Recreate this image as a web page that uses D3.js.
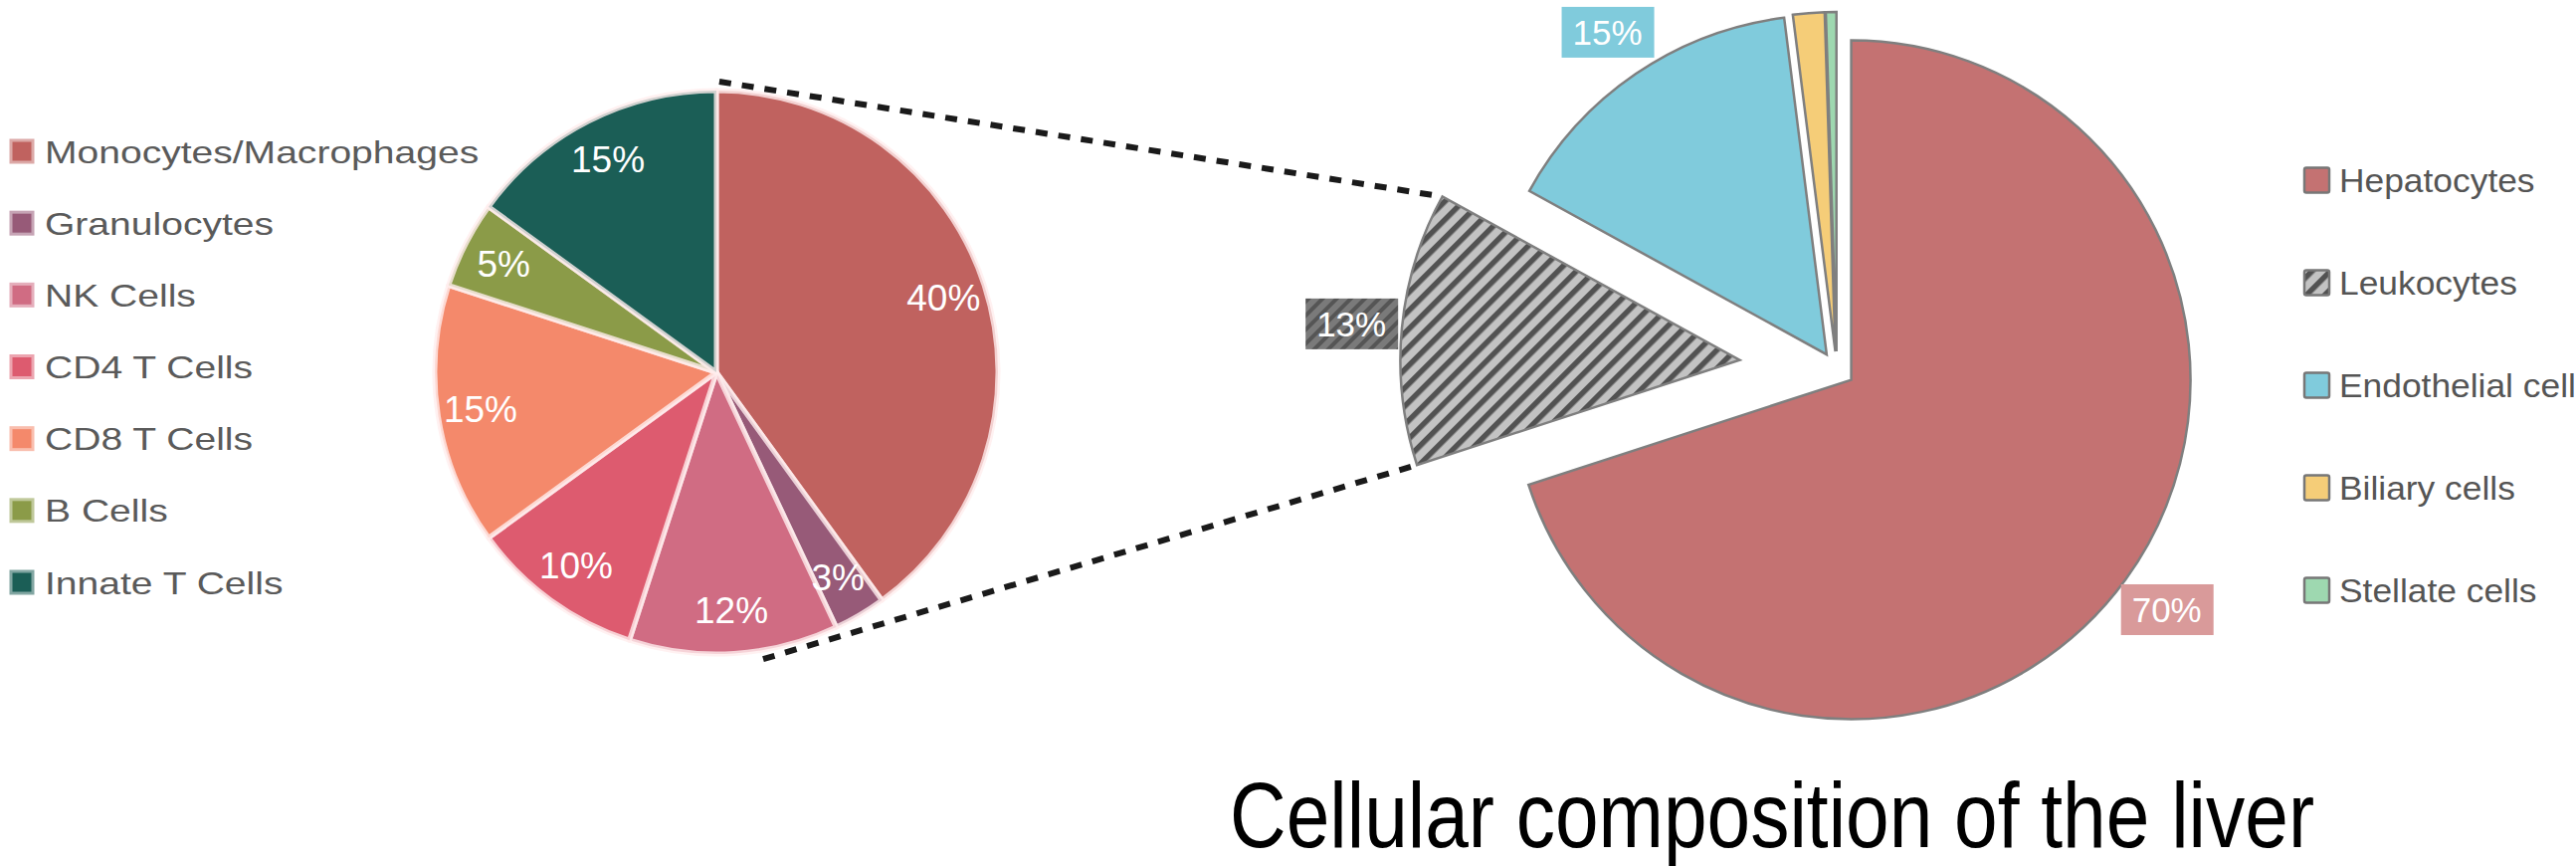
<!DOCTYPE html>
<html><head><meta charset="utf-8">
<script src="https://cdn.jsdelivr.net/npm/d3@7"></script>
<style>html,body{margin:0;padding:0;background:#fff;overflow:hidden}</style>
</head><body>
<svg id="chart" width="2589" height="870"></svg>
<script>
// ---------- data ----------
const leftCategories = ["Monocytes/Macrophages","Granulocytes","NK Cells","CD4 T Cells","CD8 T Cells","B Cells","Innate T Cells"];
const leftValues = [40, 3, 12, 10, 15, 5, 15];
const leftColors = ["#c0625f","#975a78","#d06c83","#dd5b6f","#f4896b","#8b9b48","#1b5e56"];

const rightCategories = ["Hepatocytes","Leukocytes","Endothelial cells","Biliary cells","Stellate cells"];
const rightValues = [70, 13, 15, 1.5, 0.5];
const rightColors = ["#c47272","url(#hatch)","#80cbdc","#f5cd78","#9ed8b0"];
const rightLabelFills = ["#d99a9a","url(#hatchDark)","#80cbdc","#f5cd78","#9ed8b0"];
const highlighted = "Leukocytes";

const titleText = "Cellular composition of the liver";

// ---------- setup ----------
const svg = d3.select("#chart");
svg.append("rect").attr("width",2589).attr("height",870).attr("fill","#fff");
const defs = svg.append("defs");
function hatch(id, bg, fg, period, w){
  const p = defs.append("pattern").attr("id",id).attr("patternUnits","userSpaceOnUse")
    .attr("width",period).attr("height",period).attr("patternTransform","rotate(45)");
  p.append("rect").attr("width",period).attr("height",period).attr("fill",bg);
  p.append("rect").attr("width",w).attr("height",period).attr("fill",fg);
}
hatch("hatch","#c3c3c3","#525252",13,5.5);
hatch("hatchDark","#7a7a7a","#555555",10,4);

const pct = d => d3.format("d")(d) + "%";
function stretch(sel, factor){
  sel.each(function(){
    const len = this.getComputedTextLength();
    d3.select(this).attr("textLength", len*factor).attr("lengthAdjust","spacingAndGlyphs");
  });
}

// ---------- left pie ----------
const L = {cx:720, cy:374, r:283};
const leftPie = d3.pie().sort(null).value(d=>d)(leftValues);
const leftArc = d3.arc().innerRadius(0).outerRadius(L.r);
const leftLabelArc = d3.arc().innerRadius(240).outerRadius(240);
const gl = svg.append("g").attr("transform",`translate(${L.cx},${L.cy})`);
gl.selectAll("path").data(leftPie).join("path")
  .attr("d",leftArc).attr("fill",(d,i)=>leftColors[i])
  .attr("stroke","rgba(255,238,238,0.8)").attr("stroke-width",5).attr("stroke-linejoin","round");
gl.selectAll("text").data(leftPie).join("text")
  .attr("transform",d=>`translate(${leftLabelArc.centroid(d)})`)
  .attr("text-anchor","middle").attr("dominant-baseline","central")
  .attr("font-family","'Liberation Sans', Arial, sans-serif").attr("font-size",37)
  .attr("fill","#fff").text(d=>pct(d.data));

// left legend
const ly = d3.scalePoint().domain(leftCategories).range([152,585]);
const gll = svg.append("g");
gll.selectAll("rect").data(leftCategories).join("rect")
  .attr("x",11).attr("y",d=>ly(d)-11).attr("width",22).attr("height",22)
  .attr("fill",(d,i)=>leftColors[i])
  .attr("stroke",(d,i)=>d3.interpolateRgb(leftColors[i],"#fff")(0.45)).attr("stroke-width",3);
gll.selectAll("text").data(leftCategories).join("text")
  .attr("x",45).attr("y",d=>ly(d)+11.5)
  .attr("font-family","'Liberation Sans', Arial, sans-serif").attr("font-size",32)
  .attr("fill","#5a5a5a").text(d=>d)
  .call(stretch,1.22);

// ---------- right pie ----------
const R = {cx:1846, cy:371, r:341};
const rightPie = d3.pie().sort(null).value(d=>d)(rightValues);
const rightArc = d3.arc().innerRadius(0).outerRadius(R.r);
const explode = d => rightCategories[d.index] === highlighted ? 98 : 18;
const mid = d => (d.startAngle + d.endAngle)/2;
const offset = (d, dist) => [Math.sin(mid(d))*dist, -Math.cos(mid(d))*dist];

// connector lines (left pie -> highlighted slice corners)
const hl = rightPie[rightCategories.indexOf(highlighted)];
const [hx, hy] = offset(hl, explode(hl));
const hcx = R.cx + hx, hcy = R.cy + hy;
const corner = a => [hcx + Math.sin(a)*R.r, hcy - Math.cos(a)*R.r];
const lp = a => [L.cx + Math.sin(a)*(L.r+9), L.cy - Math.cos(a)*(L.r+9)];
const connectors = [[lp(0.01), corner(hl.endAngle)], [lp(2.98), corner(hl.startAngle)]];
svg.append("g").selectAll("line").data(connectors).join("line")
  .attr("x1",d=>d[0][0]).attr("y1",d=>d[0][1]).attr("x2",d=>d[1][0]).attr("y2",d=>d[1][1])
  .attr("stroke","#1a1a1a").attr("stroke-width",6).attr("stroke-dasharray","12 11");

const gr = svg.append("g").attr("transform",`translate(${R.cx},${R.cy})`);
gr.selectAll("path").data(rightPie).join("path")
  .attr("transform",d=>`translate(${offset(d,explode(d))})`)
  .attr("d",rightArc).attr("fill",(d,i)=>rightColors[i])
  .attr("stroke","#7f7f7f").attr("stroke-width",2.5).attr("stroke-linejoin","miter");

const labelled = rightPie.filter(d=>d.data>=5);
const lab = gr.selectAll("g.lab").data(labelled).join("g").attr("class","lab")
  .attr("transform",d=>{
    const [ex,ey] = offset(d,explode(d)); const [lx,ly2] = offset(d,392);
    return `translate(${ex+lx},${ey+ly2})`;
  });
lab.append("rect").attr("x",-46).attr("y",-25).attr("width",93).attr("height",51)
  .attr("fill",d=>rightLabelFills[d.index]);
lab.append("text").attr("text-anchor","middle").attr("dominant-baseline","central").attr("y",1)
  .attr("font-family","'Liberation Sans', Arial, sans-serif").attr("font-size",35)
  .attr("fill","#fff").text(d=>pct(d.data));

// right legend
const ry = d3.scalePoint().domain(rightCategories).range([181,593]);
const grl = svg.append("g");
grl.selectAll("rect").data(rightCategories).join("rect")
  .attr("x",2316).attr("y",d=>ry(d)-12.5).attr("width",25).attr("height",25).attr("rx",2)
  .attr("fill",(d,i)=>rightColors[i]).attr("stroke","#777").attr("stroke-width",2.5);
grl.selectAll("text").data(rightCategories).join("text")
  .attr("x",2351).attr("y",d=>ry(d)+12)
  .attr("font-family","'Liberation Sans', Arial, sans-serif").attr("font-size",34)
  .attr("fill","#555").text(d=>d)
  .call(stretch,1.04);

// ---------- title ----------
svg.append("text").attr("x",1236).attr("y",851)
  .attr("font-family","'Liberation Sans Narrow', 'Liberation Sans', Arial, sans-serif").attr("font-size",92)
  .attr("fill","#000").attr("textLength",1090).attr("lengthAdjust","spacingAndGlyphs")
  .text(titleText);
</script>
</body></html>
